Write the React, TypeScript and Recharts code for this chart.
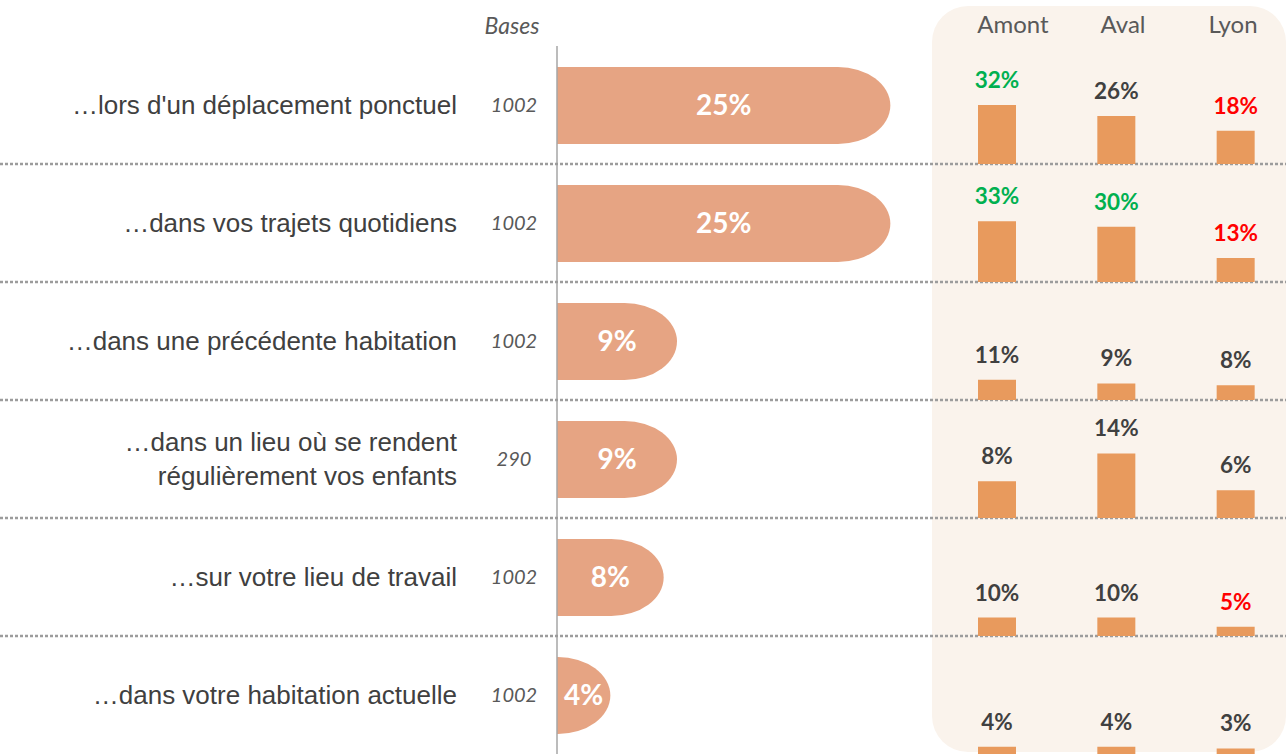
import { Bar, BarChart, LabelList, XAxis, YAxis } from "recharts";

const CATEGORIES = [
  ["…lors d'un déplacement ponctuel"],
  ["…dans vos trajets quotidiens"],
  ["…dans une précédente habitation"],
  ["…dans un lieu où se rendent", "régulièrement vos enfants"],
  ["…sur votre lieu de travail"],
  ["…dans votre habitation actuelle"],
];
const BASES = [1002, 1002, 1002, 290, 1002, 1002];
const TOTAL = [25, 25, 9, 9, 8, 4];

const ZONES = ["Amont", "Aval", "Lyon"];
const AMONT = [32, 33, 11, 8, 10, 4];
const AVAL = [26, 30, 9, 14, 10, 4];
const LYON = [18, 13, 8, 6, 5, 3];
// écart significatif vs ensemble : 1 = supérieur, -1 = inférieur
const AMONT_SIG = [1, 1, 0, 0, 0, 0];
const AVAL_SIG = [0, 1, 0, 0, 0, 0];
const LYON_SIG = [-1, -1, 0, 0, -1, 0];
// échelle propre à chaque ligne du panneau de droite
const ROW_MAX = [64, 64, 64, 25.6, 64, 64];

const W = 1286;
const H = 754;
const TOP = 46;
const AXIS_W = 557;
const ROW_H = (H - TOP) / CATEGORIES.length;

const BAR = "#E6A483";
const PANEL_BAR = "#E89A5D";
const PANEL_BG = "#FAF3EC";
const TEXT = "#404040";
const GREY = "#595959";
const SIG_COLOR: Record<string, string> = { "1": "#00B050", "-1": "#FF0000", "0": TEXT };

const rows = CATEGORIES.map((lines, i) => ({
  key: String(i),
  lines,
  base: BASES[i],
  value: TOTAL[i],
}));

const panelRows = CATEGORIES.map((_, i) =>
  ZONES.map((zone, j) => ({
    zone,
    value: [AMONT, AVAL, LYON][j][i],
    sig: [AMONT_SIG, AVAL_SIG, LYON_SIG][j][i],
  })),
);

function RowTick(props: any) {
  const { y, payload } = props;
  const i = Number(payload.value);
  const row = rows[i];
  const lh = 34;
  const first = y - ((row.lines.length - 1) * lh) / 2 + 9;
  return (
    <g>
      <text
        textAnchor="end"
        fill={TEXT}
        fontSize={26}
        fontFamily="'Liberation Sans', Arial, sans-serif"
      >
        {row.lines.map((l, k) => (
          <tspan key={k} x={457} y={first + k * lh}>
            {l}
          </tspan>
        ))}
      </text>
      <text
        x={514}
        y={y + 7}
        textAnchor="middle"
        fill={GREY}
        fontSize={20}
        fontStyle="italic"
        fontFamily="Lato, sans-serif"
      >
        {row.base}
      </text>
      {i < rows.length - 1 && (
        <line
          x1={0}
          x2={W}
          y1={y + ROW_H / 2}
          y2={y + ROW_H / 2}
          stroke="#9C9C9C"
          strokeWidth={2.5}
          strokeDasharray="3 2"
        />
      )}
    </g>
  );
}

function PillBar(props: any) {
  const { x, y, width, height, fill } = props;
  if (!width || width <= 0) return null;
  const ry = height / 2;
  const rx = Math.min(height * 0.68, width);
  const d = `M${x},${y} H${x + width - rx} A${rx},${ry} 0 0 1 ${x + width},${y + ry} A${rx},${ry} 0 0 1 ${x + width - rx},${y + height} H${x} Z`;
  return <path d={d} fill={fill} />;
}

function PanelLabel(rowIdx: number) {
  return (props: any) => {
    const { x, y, width, value, index } = props;
    const sig = panelRows[rowIdx][index].sig;
    return (
      <text
        x={x + width / 2}
        y={y - 17}
        textAnchor="middle"
        fill={SIG_COLOR[String(sig)]}
        fontSize={22.5}
        fontWeight={700}
        fontFamily="Lato, sans-serif"
      >
        {value}%
      </text>
    );
  };
}

export default function App() {
  return (
    <div
      style={{
        position: "absolute",
        left: 0,
        top: 0,
        width: W,
        height: H,
        overflow: "hidden",
        background: "#fff",
      }}
    >
      <div
        style={{
          position: "absolute",
          left: 932,
          top: 6,
          width: W - 932,
          height: H - 8,
          background: PANEL_BG,
          borderRadius: 36,
        }}
      />
      <div
        style={{
          position: "absolute",
          left: 462,
          top: 11,
          width: 100,
          textAlign: "center",
          fontFamily: "Lato, sans-serif",
          fontStyle: "italic",
          fontSize: 23,
          color: GREY,
        }}
      >
        Bases
      </div>
      <div
        style={{
          position: "absolute",
          left: 958,
          top: 9,
          width: 330,
          display: "flex",
          fontFamily: "Lato, sans-serif",
          fontSize: 24,
          color: GREY,
        }}
      >
        {ZONES.map((z) => (
          <div key={z} style={{ flex: 1, textAlign: "center" }}>
            {z}
          </div>
        ))}
      </div>
      <div style={{ position: "absolute", left: 0, top: 0 }}>
        <BarChart
          layout="vertical"
          width={W}
          height={H}
          data={rows}
          margin={{ top: TOP, right: W - AXIS_W - 360, bottom: 0, left: 0 }}
        >
          <XAxis type="number" domain={[0, 27]} hide />
          <YAxis
            type="category"
            dataKey="key"
            width={AXIS_W}
            interval={0}
            tickLine={false}
            axisLine={{ stroke: "#A6A6A6", strokeWidth: 1.5 }}
            tick={(p: any) => <RowTick {...p} />}
          />
          <Bar
            dataKey="value"
            fill={BAR}
            barSize={77}
            shape={(p: any) => <PillBar {...p} />}
            isAnimationActive={false}
          >
            <LabelList
              dataKey="value"
              position="center"
              formatter={(v: any) => `${v}%`}
              fill="#fff"
              fontSize={28}
              fontWeight={700}
              fontFamily="Lato, sans-serif"
            />
          </Bar>
        </BarChart>
      </div>
      {panelRows.map((data, i) => (
        <div
          key={i}
          style={{ position: "absolute", left: 937, top: TOP + i * ROW_H }}
        >
          <BarChart
            width={358}
            height={ROW_H}
            data={data}
            margin={{ top: 0, right: 0, bottom: 0, left: 0 }}
          >
            <XAxis dataKey="zone" hide />
            <YAxis hide domain={[0, ROW_MAX[i]]} />
            <Bar
              dataKey="value"
              fill={PANEL_BAR}
              barSize={38}
              isAnimationActive={false}
            >
              <LabelList dataKey="value" content={PanelLabel(i)} />
            </Bar>
          </BarChart>
        </div>
      ))}
    </div>
  );
}
